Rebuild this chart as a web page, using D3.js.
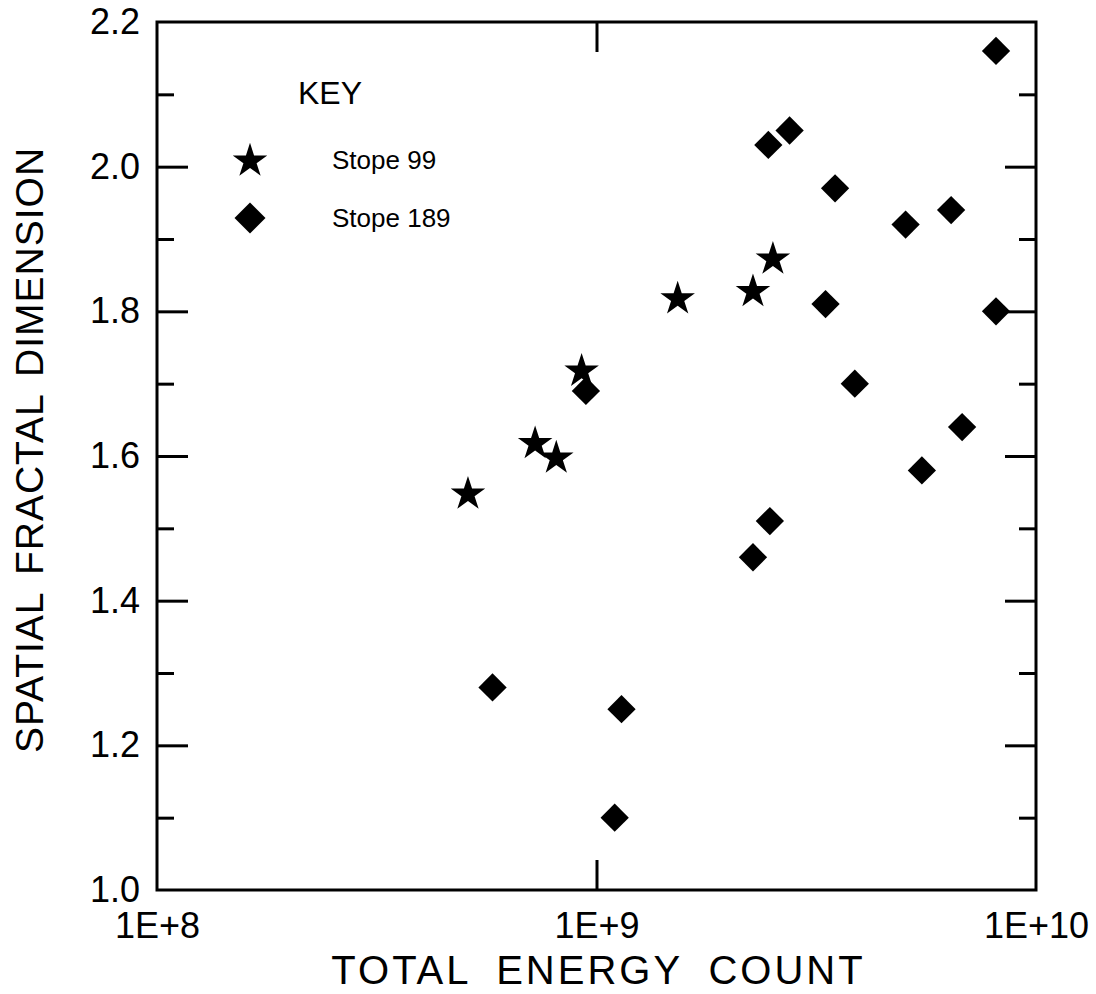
<!DOCTYPE html>
<html>
<head>
<meta charset="utf-8">
<script src="https://cdn.jsdelivr.net/npm/d3@7"></script>
<style>
  body { margin: 0; background: #fff; }
  text { font-family: "Liberation Sans", Arial, Helvetica, sans-serif; fill: #000; }
</style>
</head>
<body>
<div id="chart"></div>
<script>
// Stope 99 (stars)
var stope99Energy = [5.1e8, 7.25e8, 8.1e8, 9.25e8, 1.53e9, 2.27e9, 2.52e9];
var stope99Dim    = [1.55, 1.62, 1.60, 1.72, 1.82, 1.83, 1.875];

// Stope 189 (diamonds)
var stope189Energy = [8.11e9, 2.46e9, 2.75e9, 3.49e9, 5.05e9, 6.41e9, 3.32e9, 8.11e9, 3.87e9,
                      9.46e8, 6.79e9, 5.5e9, 2.48e9, 2.27e9, 5.8e8, 1.14e9, 1.10e9];
var stope189Dim    = [2.16, 2.03, 2.05, 1.97, 1.92, 1.94, 1.81, 1.80, 1.70,
                      1.69, 1.64, 1.58, 1.51, 1.46, 1.28, 1.25, 1.10];

// Axis ticks
var xTickValues = [1e8, 1e9, 1e10];
var xTickLabels = ["1E+8", "1E+9", "1E+10"];
var yMajorTicks = [1.0, 1.2, 1.4, 1.6, 1.8, 2.0, 2.2];
var yMinorTicks = [1.1, 1.3, 1.5, 1.7, 1.9, 2.1];

var keyLabels = ["Stope 99", "Stope 189"];

var W = 1096, H = 994;
var margin = {left: 157, right: 60, top: 22, bottom: 104};
var width = W - margin.left - margin.right;
var height = H - margin.top - margin.bottom;

var svg = d3.select("#chart").append("svg")
    .attr("width", W)
    .attr("height", H);

var chart = svg.append("g")
    .attr("transform", "translate(" + margin.left + "," + margin.top + ")");

var x = d3.scaleLog().domain([1e8, 1e10]).range([0, width]);
var y = d3.scaleLinear().domain([1.0, 2.2]).range([height, 0]);

// Minor y ticks, both sides, pointing inward
chart.append("g")
    .call(d3.axisLeft(y).tickValues(yMinorTicks).tickSize(-17).tickFormat(""));
chart.append("g")
    .attr("transform", "translate(" + width + ",0)")
    .call(d3.axisRight(y).tickValues(yMinorTicks).tickSize(-17).tickFormat(""));

// Major y ticks with labels
chart.append("g")
    .attr("class", "y-major")
    .call(d3.axisLeft(y).tickValues(yMajorTicks).tickSize(-31).tickPadding(17)
        .tickFormat(d3.format(".1f")));
chart.append("g")
    .attr("transform", "translate(" + width + ",0)")
    .call(d3.axisRight(y).tickValues(yMajorTicks).tickSize(-31).tickFormat(""));

// x axes: only the middle decade gets a tick mark
chart.append("g")
    .attr("class", "x-bottom")
    .attr("transform", "translate(0," + height + ")")
    .call(d3.axisBottom(x).tickValues(xTickValues).tickSize(-30).tickPadding(22)
        .tickFormat(function (d, i) { return xTickLabels[i]; }));
chart.append("g")
    .call(d3.axisTop(x).tickValues(xTickValues).tickSize(-30).tickFormat(""));

// Remove the corner ticks and the domain paths
chart.selectAll(".domain").remove();
chart.selectAll(".tick line")
    .attr("stroke", "#000")
    .attr("stroke-width", 3);
chart.selectAll(".tick line")
    .filter(function (d) { return d === 1e8 || d === 1e10 || d === 1.0 || d === 2.2; })
    .remove();

chart.selectAll(".tick text")
    .style("font-size", "36px")
    .attr("fill", "#000");
chart.selectAll(".x-bottom .tick text").attr("dy", "0.71em");

// Frame
chart.append("rect")
    .attr("width", width)
    .attr("height", height)
    .attr("fill", "none")
    .attr("stroke", "#000")
    .attr("stroke-width", 3);

// Axis titles
svg.append("text")
    .attr("x", margin.left + width / 2 + 2)
    .attr("y", 984)
    .attr("text-anchor", "middle")
    .style("font-size", "40px")
    .style("letter-spacing", "3px")
    .style("word-spacing", "12px")
    .text("TOTAL ENERGY COUNT");

svg.append("text")
    .attr("transform", "translate(43,450) rotate(-90)")
    .attr("text-anchor", "middle")
    .style("font-size", "39px")
    .style("letter-spacing", "1px")
    .style("word-spacing", "6px")
    .text("SPATIAL FRACTAL DIMENSION");

// Symbols
var star = d3.symbol().type(d3.symbolStar).size(370);
var diamond = d3.symbol().type(d3.symbolSquare).size(400);

var points99 = stope99Energy.map(function (e, i) { return {x: e, y: stope99Dim[i]}; });
var points189 = stope189Energy.map(function (e, i) { return {x: e, y: stope189Dim[i]}; });

chart.append("g").selectAll("path")
    .data(points189)
    .enter()
    .append("path")
    .attr("d", diamond)
    .attr("transform", function (d) {
        return "translate(" + x(d.x) + "," + y(d.y) + ") rotate(45)";
    })
    .attr("fill", "#000");

chart.append("g").selectAll("path")
    .data(points99)
    .enter()
    .append("path")
    .attr("d", star)
    .attr("transform", function (d) {
        return "translate(" + x(d.x) + "," + (y(d.y) + 2) + ")";
    })
    .attr("fill", "#000");

// Key
var key = svg.append("g");
key.append("text")
    .attr("x", 298)
    .attr("y", 104)
    .style("font-size", "32px")
    .text("KEY");

var keyRows = key.selectAll("g.row")
    .data(keyLabels)
    .enter()
    .append("g")
    .attr("class", "row")
    .attr("transform", function (d, i) { return "translate(250," + (160 + i * 58) + ")"; });

keyRows.append("path")
    .attr("d", function (d, i) {
        return i === 0 ? star() : d3.symbol().type(d3.symbolSquare).size(480)();
    })
    .attr("transform", function (d, i) { return i === 0 ? "translate(0,1)" : "rotate(45)"; })
    .attr("fill", "#000");

keyRows.append("text")
    .attr("x", 82)
    .attr("y", 9)
    .style("font-size", "26px")
    .text(function (d) { return d; });
</script>
</body>
</html>
